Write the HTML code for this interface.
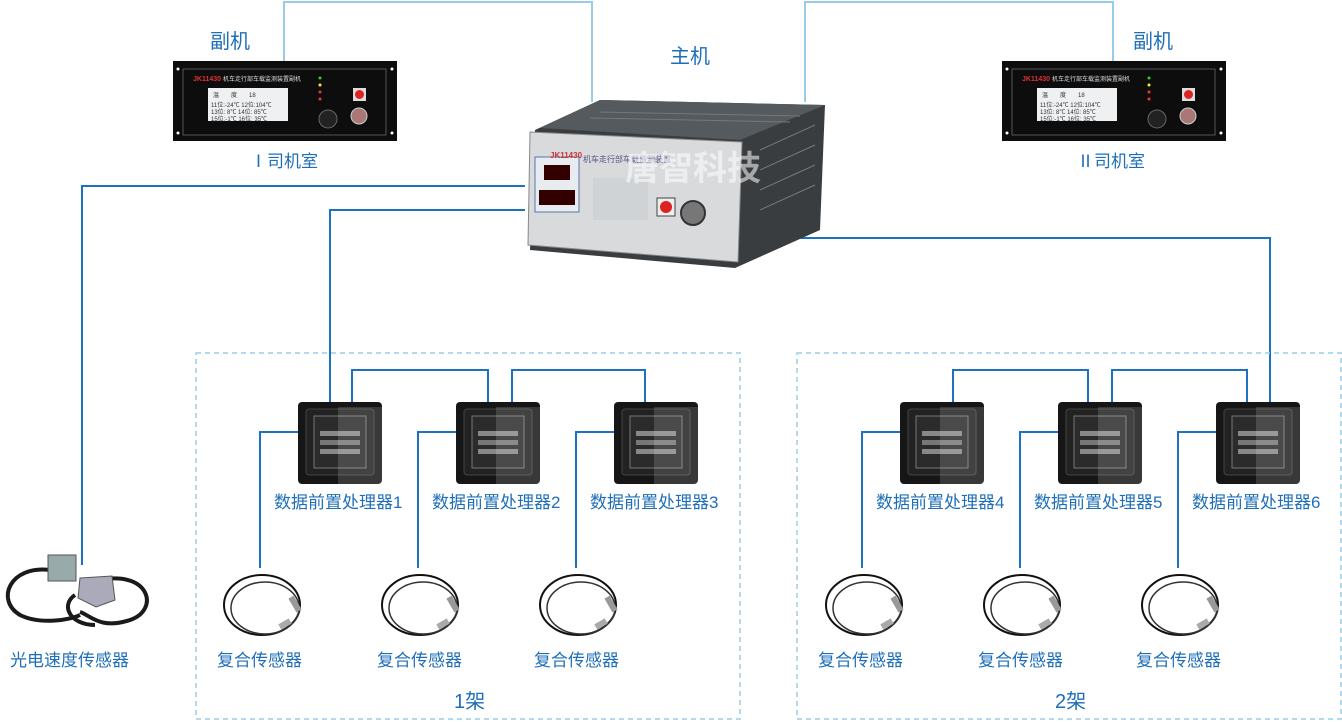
<!DOCTYPE html>
<html><head><meta charset="utf-8"><style>
html,body{margin:0;padding:0;background:#fff;}
svg{display:block;}
text{font-family:"Liberation Sans","Noto Sans CJK SC",sans-serif;}
.lb{fill:#1f6fb8;font-size:17px;}
</style></head><body>
<svg width="1342" height="722" viewBox="0 0 1342 722" xmlns="http://www.w3.org/2000/svg">
<defs>
<g id="sub">
 <rect x="0" y="0" width="224" height="80" fill="#0d0d0d"/>
 <rect x="10" y="8" width="203" height="66" fill="none" stroke="#555" stroke-width="1"/>
 <circle cx="5" cy="8" r="1.5" fill="#fff"/><circle cx="219" cy="8" r="1.5" fill="#fff"/>
 <circle cx="5" cy="72" r="1.5" fill="#fff"/><circle cx="219" cy="72" r="1.5" fill="#fff"/>
 <text x="20" y="20" font-size="7" fill="#d33" font-weight="bold">JK11430</text>
 <text x="50" y="20" font-size="6" fill="#ddd">机车走行部车载监测装置副机</text>
 <rect x="35" y="27" width="80" height="33" fill="#eef0f2"/>
 <text x="40" y="36" font-size="6" fill="#333">温　　度　　18</text>
 <text x="38" y="46" font-size="6" fill="#333">11位:-24℃ 12位:104℃</text>
 <text x="38" y="53" font-size="6" fill="#333">13位: 8℃ 14位: 85℃</text>
 <text x="38" y="60" font-size="6" fill="#333">15位:-1℃ 16位: 35℃</text>
 <circle cx="147" cy="17" r="1.5" fill="#3c3"/><circle cx="147" cy="24" r="1.5" fill="#ee3"/>
 <circle cx="147" cy="31" r="1.5" fill="#e33"/><circle cx="147" cy="38" r="1.5" fill="#e33"/>
 <rect x="180" y="27" width="13" height="13" fill="#ddd"/><circle cx="186.5" cy="33.5" r="4.5" fill="#d22"/>
 <circle cx="155" cy="58" r="9" fill="#222" stroke="#666"/>
 <circle cx="186" cy="55" r="8" fill="#a77" stroke="#ccc"/>
</g>
<g id="proc">
 <rect x="0" y="0" width="84" height="82" rx="4" fill="#161616"/>
 <rect x="8" y="7" width="68" height="66" rx="3" fill="#222" stroke="#444"/>
 <rect x="16" y="14" width="52" height="52" fill="#2b2b2b" stroke="#777"/>
 <rect x="22" y="29" width="40" height="5" fill="#888"/>
 <rect x="22" y="38" width="40" height="5" fill="#777"/>
 <rect x="22" y="47" width="40" height="5" fill="#888"/>
 <rect x="40" y="5" width="44" height="77" fill="#fff" opacity="0.15"/>
</g>
<g id="coil" fill="none">
 <ellipse cx="40" cy="35" rx="38" ry="30" stroke="#111" stroke-width="2"/>
 <ellipse cx="43" cy="38" rx="34" ry="26" stroke="#333" stroke-width="1.5"/>
 <rect x="70" y="26" width="6" height="16" fill="#999" transform="rotate(-30 73 34)"/>
 <rect x="60" y="48" width="6" height="12" fill="#aaa" transform="rotate(60 63 54)"/>
</g>
</defs>

<!-- light top lines -->
<g stroke="#9ccbe8" stroke-width="2" fill="none">
 <polyline points="284,61 284,2 592,2 592,102"/>
 <polyline points="805,102 805,2 1113,2 1113,61"/>
</g>
<!-- blue lines -->
<g stroke="#1a72c0" stroke-width="2" fill="none">
 <polyline points="525,186 82,186 82,565"/>
 <polyline points="525,210 330,210 330,402"/>
 <polyline points="760,238 1270,238 1270,402"/>
 <polyline points="352,402 352,370 488,370 488,402"/>
 <polyline points="512,402 512,370 645,370 645,402"/>
 <polyline points="953,402 953,370 1088,370 1088,402"/>
 <polyline points="1112,402 1112,370 1247,370 1247,402"/>
 <polyline points="298,432 260,432 260,568"/>
 <polyline points="456,432 418,432 418,568"/>
 <polyline points="614,432 576,432 576,568"/>
 <polyline points="900,432 862,432 862,568"/>
 <polyline points="1058,432 1020,432 1020,568"/>
 <polyline points="1216,432 1178,432 1178,568"/>
</g>
<!-- dashed boxes -->
<rect x="196" y="353" width="544" height="366" fill="none" stroke="#9ccbe8" stroke-width="1.5" stroke-dasharray="5,4"/>
<rect x="797" y="353" width="544" height="366" fill="none" stroke="#9ccbe8" stroke-width="1.5" stroke-dasharray="5,4"/>

<!-- sub units -->
<use href="#sub" x="173" y="61"/>
<use href="#sub" x="1002" y="61"/>
<text class="lb" x="210" y="48" font-size="20" style="font-size:20px">副机</text>
<text class="lb" x="1133" y="48" style="font-size:20px">副机</text>
<text class="lb" x="250" y="167">Ⅰ司机室</text>
<text class="lb" x="1077" y="167">Ⅱ司机室</text>
<text class="lb" x="670" y="63" style="font-size:20px">主机</text>

<!-- host -->
<polygon points="535,130 600,100 825,105 820,230 735,268 530,250" fill="#3a3d40"/>
<polygon points="600,100 825,105 740,140 540,128" fill="#555a5e"/>
<g stroke="#777" stroke-width="1">
 <line x1="600" y1="112" x2="800" y2="116"/><line x1="590" y1="118" x2="790" y2="122"/>
 <line x1="760" y1="150" x2="815" y2="125"/><line x1="760" y1="170" x2="815" y2="145"/>
 <line x1="760" y1="190" x2="815" y2="165"/><line x1="760" y1="210" x2="815" y2="185"/>
</g>
<polygon points="530,132 742,142 738,262 528,245" fill="#d8dadc" stroke="#888"/>
<rect x="535" y="157" width="44" height="55" fill="#e8ecf0" stroke="#5577aa"/>
<rect x="544" y="165" width="26" height="15" fill="#300"/>
<rect x="539" y="190" width="36" height="15" fill="#300"/>
<text x="550" y="158" font-size="8" fill="#c33" font-weight="bold">JK11430</text>
<text x="583" y="162" font-size="8" fill="#558">机车走行部车载监测装置</text>
<rect x="593" y="178" width="55" height="42" fill="#cfd3d6"/>
<rect x="657" y="198" width="18" height="18" fill="#eee" stroke="#444"/>
<circle cx="666" cy="207" r="6" fill="#d22"/>
<circle cx="693" cy="213" r="12" fill="#777" stroke="#333" stroke-width="2"/>
<text x="625" y="180" font-size="34" fill="#fff" opacity="0.55" font-weight="bold">唐智科技</text>

<!-- processors -->
<use href="#proc" x="298" y="402"/>
<use href="#proc" x="456" y="402"/>
<use href="#proc" x="614" y="402"/>
<use href="#proc" x="900" y="402"/>
<use href="#proc" x="1058" y="402"/>
<use href="#proc" x="1216" y="402"/>
<text class="lb" x="274" y="508">数据前置处理器1</text>
<text class="lb" x="432" y="508">数据前置处理器2</text>
<text class="lb" x="590" y="508">数据前置处理器3</text>
<text class="lb" x="876" y="508">数据前置处理器4</text>
<text class="lb" x="1034" y="508">数据前置处理器5</text>
<text class="lb" x="1192" y="508">数据前置处理器6</text>

<!-- sensors -->
<use href="#coil" x="222" y="570"/>
<use href="#coil" x="380" y="570"/>
<use href="#coil" x="538" y="570"/>
<use href="#coil" x="824" y="570"/>
<use href="#coil" x="982" y="570"/>
<use href="#coil" x="1140" y="570"/>
<text class="lb" x="217" y="666">复合传感器</text>
<text class="lb" x="377" y="666">复合传感器</text>
<text class="lb" x="534" y="666">复合传感器</text>
<text class="lb" x="818" y="666">复合传感器</text>
<text class="lb" x="978" y="666">复合传感器</text>
<text class="lb" x="1136" y="666">复合传感器</text>

<!-- optical sensor -->
<g fill="none" stroke="#1a1a1a" stroke-width="4">
 <path d="M50,570 C10,565 -5,600 20,615 C40,625 70,620 80,615"/>
 <path d="M100,580 C150,570 160,610 130,620 C100,630 90,615 80,612"/>
 <path d="M75,595 C60,605 70,625 95,625"/>
</g>
<rect x="48" y="555" width="28" height="26" fill="#9aa" stroke="#555"/>
<polygon points="80,578 112,576 115,600 96,607 78,598" fill="#aab" stroke="#555"/>
<text class="lb" x="10" y="666">光电速度传感器</text>

<text class="lb" x="454" y="708" style="font-size:20px">1架</text>
<text class="lb" x="1055" y="708" style="font-size:20px">2架</text>
</svg>
</body></html>
